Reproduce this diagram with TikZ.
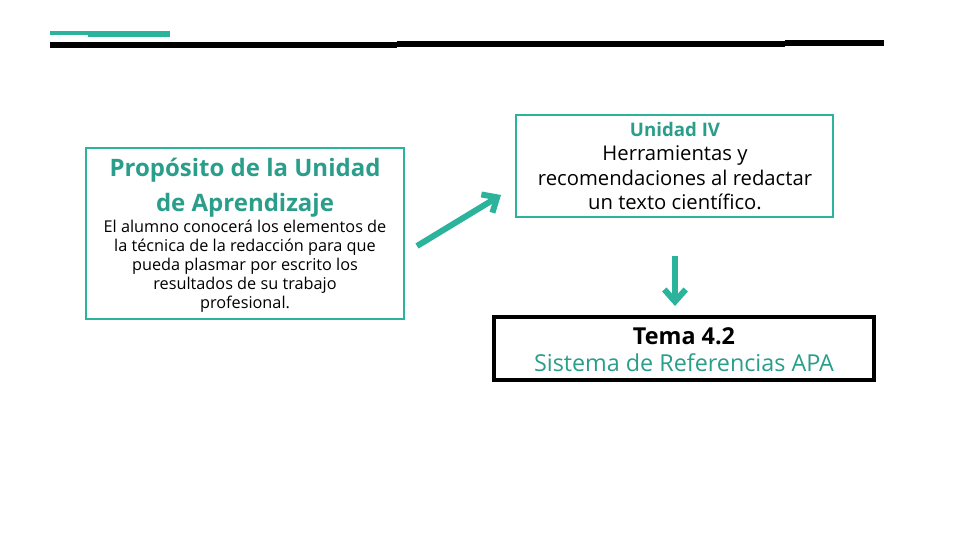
\documentclass[tikz,border=0pt]{standalone}
\usepackage{fontspec}
\setmainfont{Open Sans}
\usetikzlibrary{arrows.meta}
\definecolor{teal1}{HTML}{2BB39B}
\definecolor{tealtxt}{HTML}{2A9E8B}
\begin{document}
\begin{tikzpicture}[x=0.75pt,y=-0.75pt,
  tealbox/.style={draw=teal1,line width=2.2pt,inner sep=0pt},
  blackbox/.style={draw=black,line width=2.4pt,inner sep=0pt},
  txt/.style={inner sep=0pt,align=center,anchor=base},
  conn/.style={draw=teal1,line width=4.5pt,-{Straight Barb[length=9pt,width=16pt,line width=4.5pt]}}]
\useasboundingbox (0,0) rectangle (960,540);
\fill[white] (0,0) rectangle (960,540);
% header bars
\fill[teal1] (50,31) rectangle (88,35);
\fill[teal1] (88,31) rectangle (170,37);
\fill[black] (50,42) rectangle (397,48);
\fill[black] (397,41) rectangle (785,47);
\fill[black] (785,40) rectangle (884,46);
% boxes
\draw[tealbox] (86,148) rectangle (404,319);
\draw[tealbox] (516,115) rectangle (833,217);
\draw[blackbox] (494,317) rectangle (874,380);
% left texts
\node[txt,font=\fontsize{18}{20}\selectfont\bfseries,text=tealtxt] (t1) at (245,176) {Propósito de la Unidad};
\node[txt,font=\fontsize{18}{20}\selectfont\bfseries,text=tealtxt] (t2) at (245,211) {de Aprendizaje};
\node[txt,font=\fontsize{12.2}{14}\selectfont] (b1) at (245,232) {El alumno conocerá los elementos de};
\node[txt,font=\fontsize{12.2}{14}\selectfont] (b2) at (245,251) {la técnica de la redacción para que};
\node[txt,font=\fontsize{12.2}{14}\selectfont] (b3) at (245,270) {pueda plasmar por escrito los};
\node[txt,font=\fontsize{12.2}{14}\selectfont] (b4) at (245,289) {resultados de su trabajo};
\node[txt,font=\fontsize{12.2}{14}\selectfont] (b5) at (245,308) {profesional.};
% right texts
\node[txt,font=\fontsize{14}{16}\selectfont\bfseries,text=tealtxt] (u1) at (675,136) {Unidad IV};
\node[txt,font=\fontsize{15.2}{16}\selectfont] (u2) at (675,160) {Herramientas y};
\node[txt,font=\fontsize{15.2}{16}\selectfont] (u3) at (675,185) {recomendaciones al redactar};
\node[txt,font=\fontsize{15.2}{16}\selectfont] (u4) at (675,209) {un texto científico.};
% bottom texts
\node[txt,font=\fontsize{17.5}{18}\selectfont\bfseries] (m1) at (684,344) {Tema 4.2};
\node[txt,font=\fontsize{17.5}{18}\selectfont,text=tealtxt] (m2) at (684,371) {Sistema de Referencias APA};
% arrows
\coordinate (a1s) at (417,246);
\coordinate (a1e) at (501,195);
\draw[conn] (a1s) -- (a1e);
\coordinate (a2s) at (675,256);
\coordinate (a2e) at (675,306);
\draw[conn] (a2s) -- (a2e);
\end{tikzpicture}
\end{document}
